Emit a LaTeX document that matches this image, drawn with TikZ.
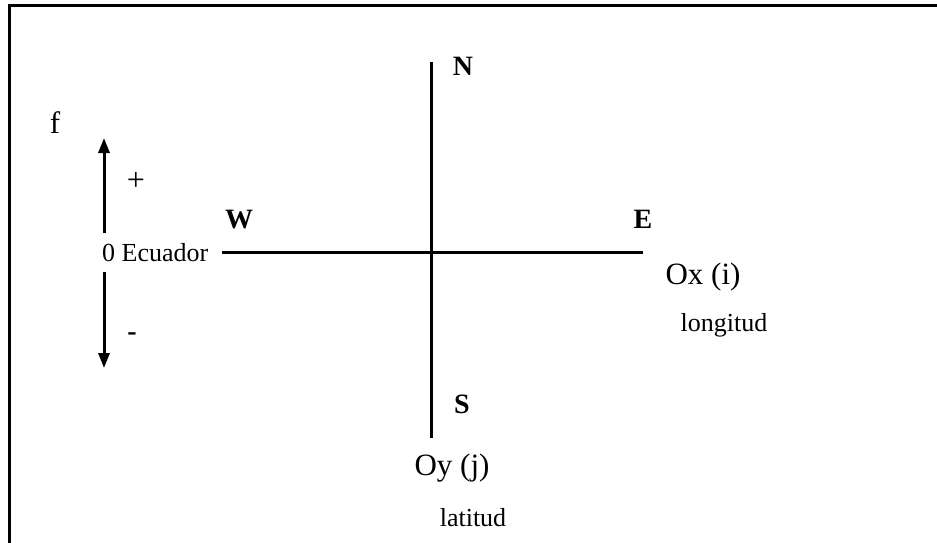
\documentclass[tikz,border=0pt]{standalone}
\usepackage{fontspec}
\setmainfont{Liberation Serif}
\usetikzlibrary{arrows.meta}
\begin{document}
\begin{tikzpicture}[x=1pt,y=-1pt,
  axis/.style={line width=3pt},
  arr/.style={line width=3pt,-{Triangle[width=11pt,length=15pt]}},
  big/.style={font=\fontsize{31}{31}\selectfont,inner sep=0pt,anchor=base},
  mid/.style={font=\fontsize{26}{26}\selectfont,inner sep=0pt,anchor=base},
  bl/.style={font=\fontsize{28}{28}\selectfont\bfseries,inner sep=0pt,anchor=base}]
\useasboundingbox (0,0) rectangle (937,542);
\fill[white] (0,0) rectangle (937,542);
% frame
\coordinate (fl) at (9,545);
\coordinate (ftl) at (9,5);
\coordinate (fr) at (940,5);
\draw[line width=3pt] (fl) -- (ftl) -- (fr);
% axes
\coordinate (nTop) at (431,62);
\coordinate (sBot) at (431,438);
\coordinate (wEnd) at (222,252);
\coordinate (eEnd) at (643,252);
\draw[axis] (nTop) -- (sBot);
\draw[axis] (wEnd) -- (eEnd);
% labels
\node[bl] (N) at (463,75) {N};
\node[bl] (E) at (643,228) {E};
\node[bl] (W) at (239,228) {W};
\node[bl] (S) at (462,413) {S};
\node[big] (Ox) at (703,284) {Ox (i)};
\node[mid] (lon) at (724,331) {longitud};
\node[big] (Oy) at (452,475) {Oy (j)};
\node[mid] (lat) at (473,526) {latitud};
\node[big] (f) at (55,133) {f};
\node[mid,anchor=base west] (ecu) at (102,261) {0 Ecuador};
\node[font=\fontsize{32}{32}\selectfont,inner sep=0pt,anchor=base] (plus) at (136,190) {+};
\node[bl] (minus) at (132,340) {-};
% phi arrows
\coordinate (upS) at (104,233);
\coordinate (upE) at (104,138);
\coordinate (dnS) at (104,272);
\coordinate (dnE) at (104,368);
\draw[arr] (upS) -- (upE);
\draw[arr] (dnS) -- (dnE);
\end{tikzpicture}
\end{document}
